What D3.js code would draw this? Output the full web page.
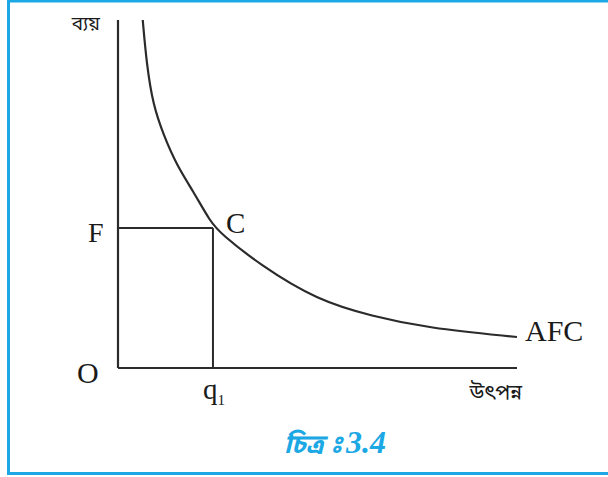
<!DOCTYPE html>
<html>
<head>
<meta charset="utf-8">
<script src="https://cdn.jsdelivr.net/npm/d3@7"></script>
<style>
  html, body { margin: 0; padding: 0; background: #fff; }
  svg { display: block; }
</style>
</head>
<body>
<div id="div_chart"></div>
<script>
// Curve points (output q, average fixed cost)
var qValues   = [0.62, 0.72, 0.88, 1.14, 1.47, 1.89, 2.32, 2.58, 3.56, 4.99, 6.37, 7.74, 10];
var afcValues = [10, 8.71, 7.56, 6.70, 5.83, 5.07, 4.19, 3.86, 2.96, 1.95, 1.49, 1.15, 0.89];
// Point C on the curve
var pointC = [2.38, 4.02];
var axisMax = [10, 10];
var yLabel = "ব্যয়";
var xLabel = "উৎপন্ন";
var curveLabel = "AFC";
var captionWord = "চিত্র";
var captionMark = "\u00A0ঃ";
var captionNum = "3.4";

var svgWidth = 608, svgHeight = 477;
var blue = "#1ba8e4";
var ink = "#2b2b2b";
var serif = "'Liberation Serif', 'Times New Roman', serif";
var bengali = "'Noto Sans Bengali', 'Lohit Bengali', 'Noto Serif Bengali', 'FreeSerif', sans-serif";

var svg = d3.select("#div_chart")
    .append("svg")
        .attr("width", svgWidth)
        .attr("height", svgHeight);

// Frame (blue border, right side runs off the page)
svg.append("rect")
    .attr("x", 8.5).attr("y", 1)
    .attr("width", svgWidth + 10).attr("height", 472.5)
    .attr("fill", "none")
    .attr("stroke", blue)
    .attr("stroke-width", 3);

// Scales
var x = d3.scaleLinear().domain([0, axisMax[0]]).range([118, 517]);
var y = d3.scaleLinear().domain([0, axisMax[1]]).range([368, 20]);

// Axes
var g = svg.append("g");
g.append("line")
    .attr("x1", x(0)).attr("y1", y(0))
    .attr("x2", x(0)).attr("y2", y(axisMax[1]))
    .attr("stroke", ink).attr("stroke-width", 2.2);
g.append("line")
    .attr("x1", x(0)).attr("y1", y(0))
    .attr("x2", x(axisMax[0])).attr("y2", y(0))
    .attr("stroke", ink).attr("stroke-width", 2.2);

// Guide lines to C
g.append("line")
    .attr("x1", x(0)).attr("y1", y(pointC[1]))
    .attr("x2", x(pointC[0])).attr("y2", y(pointC[1]))
    .attr("stroke", ink).attr("stroke-width", 2);
g.append("line")
    .attr("x1", x(pointC[0])).attr("y1", y(pointC[1]))
    .attr("x2", x(pointC[0])).attr("y2", y(0))
    .attr("stroke", ink).attr("stroke-width", 2);

// AFC curve
var pts = qValues.map(function (q, i) { return [q, afcValues[i]]; });
var line = d3.line()
    .x(function (d) { return x(d[0]); })
    .y(function (d) { return y(d[1]); })
    .curve(d3.curveBasis);
g.append("path")
    .datum(pts)
    .attr("d", line)
    .attr("fill", "none")
    .attr("stroke", ink)
    .attr("stroke-width", 2.2);

// Labels
function txt(t, px, py, size, fam, anchor) {
    return svg.append("text")
        .attr("x", px).attr("y", py)
        .attr("font-family", fam)
        .attr("font-size", size)
        .attr("fill", "#1a1a1a")
        .attr("text-anchor", anchor || "start")
        .text(t);
}
txt(yLabel, x(0) - 18, y(axisMax[1]) + 10, 19, bengali, "end");
txt("F", x(0) - 30, y(pointC[1]) + 14, 28, serif);
txt("C", x(pointC[0]) + 13, y(pointC[1]) + 5, 29, serif);
txt("O", x(0) - 41, y(0) + 15, 30, serif);
var q1 = txt("q", x(pointC[0]) - 10, y(0) + 31, 29, serif);
q1.append("tspan").attr("font-size", 15).attr("dy", 6).text("1");
txt(curveLabel, x(axisMax[0]) + 8, y(afcValues[afcValues.length - 1]) + 4, 30, serif);
txt(xLabel, x(axisMax[0]) + 5, y(0) + 31, 21, bengali, "end");

// Caption
var cap = svg.append("text")
    .attr("x", 335).attr("y", 453)
    .attr("text-anchor", "middle")
    .attr("font-style", "italic")
    .attr("font-weight", "bold")
    .attr("font-size", 26)
    .attr("fill", blue);
cap.append("tspan").attr("font-family", bengali).text(captionWord + captionMark);
cap.append("tspan").attr("font-family", "'Liberation Serif', serif")
    .attr("font-size", 32).attr("dx", 4).text(captionNum);
</script>
</body>
</html>
